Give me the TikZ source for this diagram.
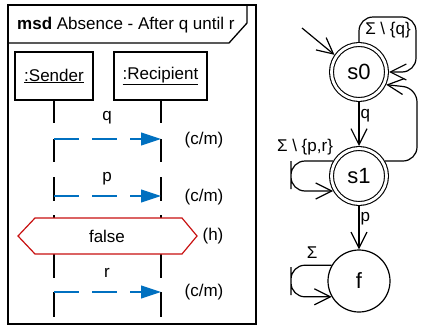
\documentclass[tikz,border=0pt]{standalone}
\usepackage{fontspec}
\setmainfont{Liberation Sans}
\usetikzlibrary{arrows.meta}
\definecolor{msgblue}{RGB}{0,112,192}
\definecolor{condred}{RGB}{200,16,16}
\begin{document}
\begin{tikzpicture}[x=1pt,y=-1pt,
  font=\fontsize{17}{20}\selectfont,
  frame/.style={line width=1.3pt},
  head/.style={draw, line width=1.2pt, minimum height=48pt, inner sep=0pt},
  life/.style={line width=1.3pt},
  msg/.style={draw=msgblue, line width=1.1pt, dash pattern=on 25pt off 13pt,
    -{Triangle[length=20pt,width=13pt,fill=msgblue]}},
  cond/.style={draw=condred, line width=1.2pt, fill=white},
  acc/.style={circle, draw, line width=1.1pt, double, double distance=2.8pt,
    minimum size=55pt, outer sep=2.5pt, font=\fontsize{22}{24}\selectfont},
  plain/.style={circle, draw, line width=1.2pt, minimum size=62pt,
    font=\fontsize{22}{24}\selectfont},
  edge/.style={line width=1.2pt, -{Straight Barb[length=16pt,width=16pt]}},
  lbl/.style={inner sep=1pt}
]
\useasboundingbox (0,0) rectangle (425,327);

% ---- sequence diagram frame ----
\draw[frame] (8,5) rectangle (256,324);
\draw[frame] (8,43) -- (229,43) -- (247,23) -- (247,5);
\node[anchor=base west, inner sep=0pt] (title) at (17,29)
  {\textbf{msd} Absence - After q until r};

% lifeline heads
\node[head, minimum width=78pt] (snd) at (54,76) {\underline{:Sender}};
\node[head, minimum width=93pt] (rcp) at (160.5,76) {\underline{:Recipient}};

% lifeline segments
\foreach \x in {54,161} {
  \draw[life] (\x,100) -- (\x,123);
  \draw[life] (\x,139) -- (\x,162);
  \draw[life] (\x,177) -- (\x,201);
  \draw[life] (\x,215) -- (\x,225);
  \draw[life] (\x,254) -- (\x,278);
  \draw[life] (\x,292) -- (\x,317);
}

% messages
\coordinate (qa) at (54,139);  \coordinate (qb) at (161,139);
\coordinate (pa) at (54,196);  \coordinate (pb) at (161,196);
\coordinate (ra) at (54,292);  \coordinate (rb) at (161,292);
\draw[msg] (qa) -- (qb);
\draw[msg] (pa) -- (pb);
\draw[msg] (ra) -- (rb);
\node (ql) at (107,118) {q};
\node (pl) at (107,179) {p};
\node (rl) at (107,273) {r};
\node (qk) at (204,140) {(c/m)};
\node (pk) at (204,197) {(c/m)};
\node (rk) at (204,292) {(c/m)};

% condition
\draw[cond] (18,236) -- (35,218) -- (182,218) -- (197,236) -- (182,254) -- (35,254) -- cycle;
\node (cf) at (107,236) {false};
\node (ck) at (213,236) {(h)};

% ---- automaton ----
\node[acc] (s0) at (359,72) {s0};
\node[acc] (s1) at (359,176) {s1};
\node[plain] (f) at (359,281) {f};

\coordinate (init) at (302,28);
\draw[edge] (init) -- (s0.145);

\coordinate (l0) at (416,17);
\draw[edge, rounded corners=14pt] (s0.north) |- (l0) |- (s0.east);
\node[lbl] at (388,30) {Σ \textbackslash\ \{q\}};

\draw[edge] (s0) -- node[right, lbl, pos=0.3] {q} (s1);
\draw[edge] (s1) -- node[right, lbl, pos=0.3] {p} (f);

\coordinate (b0) at (417,88);
\draw[edge, rounded corners=14pt] (s1.30) -| (b0) -- (s0.-25);

\coordinate (l1) at (291,175);
\draw[edge, rounded corners=14pt] (s1.150) -| (l1) |- (s1.210);
\node[lbl] at (305,147) {Σ \textbackslash\ \{p,r\}};

\coordinate (l2) at (291,281);
\draw[edge, rounded corners=14pt] (f.150) -| (l2) |- (f.210);
\node[lbl] at (312,253) {Σ};
\end{tikzpicture}
\end{document}
